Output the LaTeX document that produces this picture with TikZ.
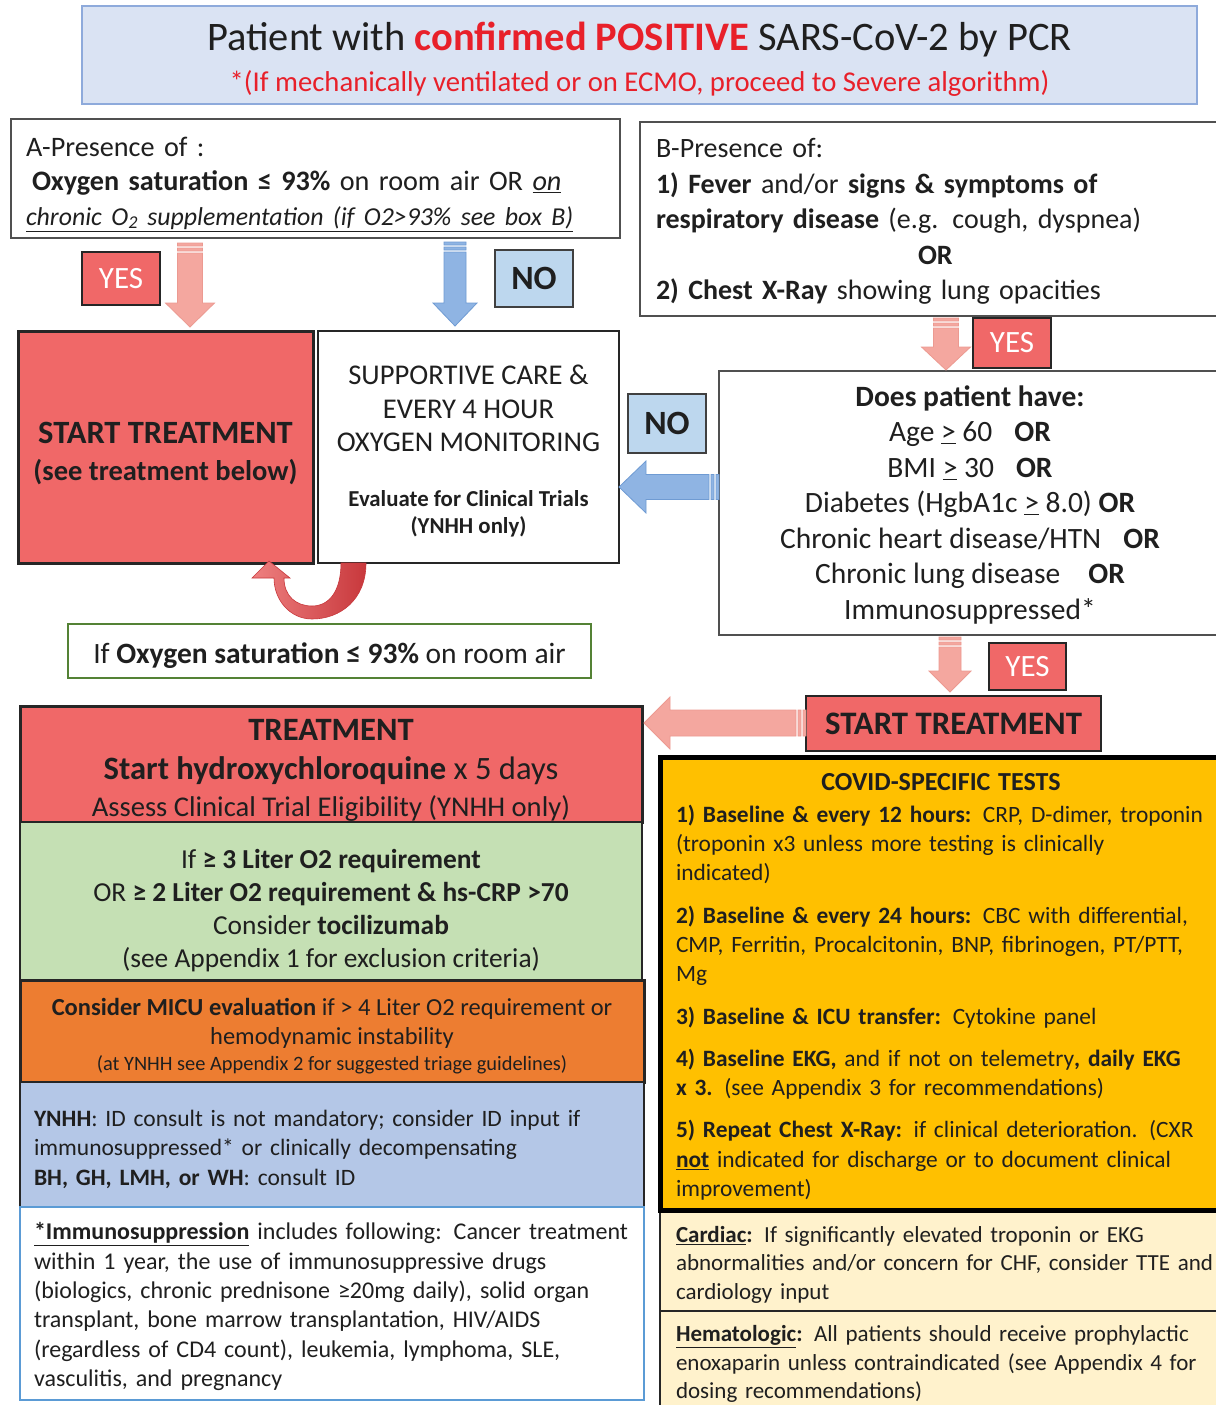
\documentclass[tikz,border=0pt]{standalone}
\usepackage{fontspec}
\setmainfont{Carlito}
\usetikzlibrary{arrows.meta,calc}
\definecolor{hdrfill}{HTML}{DAE3F3}
\definecolor{hdrline}{HTML}{8EAADB}
\definecolor{titlered}{HTML}{E8202A}
\definecolor{coral}{HTML}{F06868}
\definecolor{darkline}{HTML}{262626}
\definecolor{boxgray}{HTML}{505050}
\definecolor{nofill}{HTML}{BDD7EE}
\definecolor{noline}{HTML}{404040}
\definecolor{pinkA}{HTML}{F4A79F}
\definecolor{pinkE}{HTML}{EC9A91}
\definecolor{blueA}{HTML}{8FB4E3}
\definecolor{blueE}{HTML}{6F9BD3}
\definecolor{greenfill}{HTML}{C5E0B4}
\definecolor{greenline}{HTML}{548235}
\definecolor{orangefill}{HTML}{ED7D31}
\definecolor{bluefill}{HTML}{B4C7E7}
\definecolor{immline}{HTML}{5B9BD5}
\definecolor{amber}{HTML}{FFC000}
\definecolor{cream}{HTML}{FFF2CC}
\definecolor{textdark}{HTML}{1F1F1F}
\definecolor{curveL}{HTML}{EE8080}
\definecolor{curveR}{HTML}{C8383C}
% strut that lowers a centred text block by half its extra height
\newcommand{\dn}[1]{\rule{0pt}{\dimexpr\fontcharht\font`\(+#1\relax}}
\newcommand{\downblock}[6]{%
  \path[#1] let \p1=(#2), \p2=(#3) in
    (\x1-#4,\y1) rectangle (\x1+#4,\y1-3pt)
    (\x1-#4,\y1-5pt) rectangle (\x1+#4,\y1-8pt)
    (\x1-#4,\y1-10pt) -- (\x1+#4,\y1-10pt) -- (\x1+#4,\y2+#6) -- (\x1+#5,\y2+#6)
    -- (\x1,\y2) -- (\x1-#5,\y2+#6) -- (\x1-#4,\y2+#6) -- cycle;}
\newcommand{\leftblock}[6]{%
  \path[#1] let \p1=(#2), \p2=(#3) in
    (\x1,\y1-#4) rectangle (\x1-3pt,\y1+#4)
    (\x1-5pt,\y1-#4) rectangle (\x1-8pt,\y1+#4)
    (\x1-10pt,\y1-#4) -- (\x1-10pt,\y1+#4) -- (\x2+#6,\y1+#4) -- (\x2+#6,\y1+#5)
    -- (\x2,\y1) -- (\x2+#6,\y1-#5) -- (\x2+#6,\y1-#4) -- cycle;}
\begin{document}
\begin{tikzpicture}[x=1pt,y=-1pt,
  every node/.append style={text=textdark},
  bx/.style={anchor=north west, inner sep=0pt, outer sep=0pt, align=center},
  bxl/.style={anchor=north west, inner ysep=0pt, outer sep=0pt, align=left},
  yesbox/.style={bx, draw=darkline, line width=2pt, fill=coral, text=white, font=\fontsize{31}{31}\selectfont},
  nobox/.style={bx, draw=noline, line width=1.5pt, fill=nofill, font=\bfseries\fontsize{34}{34}\selectfont},
  pinkarrow/.style={fill=pinkA, draw=pinkE, line width=0.8pt},
  bluearrow/.style={fill=blueA, draw=blueE, line width=0.8pt}]
\useasboundingbox (0,0) rectangle (1215,1405);
\fill[white] (0,0) rectangle (1215,1405);

% header
\node[bx, draw=hdrline, line width=1.5pt, fill=hdrfill, minimum width=1115pt, minimum height=98pt,
  font=\fontsize{40.5}{41}\selectfont] (hdr) at (82,6)
  {\dn{8pt}Patient with {\color{titlered}\bfseries confirmed POSITIVE} SARS-CoV-2 by PCR\\
   {\fontsize{28.7}{30}\selectfont\color{titlered}*(If mechanically ventilated or on ECMO, proceed to Severe algorithm)}};

% box A
\node[bxl, draw=boxgray, line width=1.2pt, fill=white, text width=579pt, inner xsep=15pt, minimum height=119pt,
  font=\fontsize{28.2}{34.5}\selectfont] (A) at (11,119)
  {\dn{10pt}A-Presence of :\\\hspace*{6pt}\textbf{Oxygen saturation ≤ 93\%} on room air OR \underline{\textit{on}}\\
   {\fontsize{25.8}{34.5}\selectfont\underline{\textit{chronic O\textsubscript{2} supplementation (if O2>93\% see box B)}}}};

% box B
\node[bxl, draw=boxgray, line width=1.2pt, fill=white, text width=560pt, inner xsep=16pt, minimum height=194pt,
  font=\fontsize{28}{35.5}\selectfont] (B) at (640,122)
  {\dn{4pt}B-Presence of:\\\textbf{1) Fever} and/or \textbf{signs \& symptoms of}\\
   \textbf{respiratory disease} (e.g. cough, dyspnea)\\\hspace*{262pt}\textbf{OR}\\
   \textbf{2) Chest X-Ray} showing lung opacities};

\node[yesbox, minimum width=78pt, minimum height=53pt] (yes1) at (82,252) {YES};
\node[nobox, minimum width=78pt, minimum height=57pt] (no1) at (495,250) {NO};

% start treatment (left)
\node[bx, draw=darkline, line width=3pt, fill=coral, minimum width=295pt, minimum height=232pt,
  font=\bfseries\fontsize{32.5}{37}\selectfont] (start1) at (18,331)
  {\dn{10pt}START TREATMENT\\{\fontsize{28.5}{37}\selectfont (see treatment below)}};

% supportive care
\node[bx, draw=darkline, line width=2.5pt, fill=white, minimum width=301pt, minimum height=232pt,
  font=\fontsize{28.6}{33.5}\selectfont] (sup) at (318,331)
  {\dn{7pt}SUPPORTIVE CARE \&\\EVERY 4 HOUR\\OXYGEN MONITORING\\[21pt]
   {\bfseries\fontsize{22.8}{27}\selectfont Evaluate for Clinical Trials}\\[-6.5pt]
   {\bfseries\fontsize{22.8}{27}\selectfont (YNHH only)}};

% does patient have
\node[bx, draw=boxgray, line width=1.2pt, fill=white, minimum width=502pt, minimum height=264pt,
  font=\fontsize{29.5}{35.5}\selectfont] (does) at (719,371)
  {\dn{3pt}\textbf{Does patient have:}\\
   Age \underline{>} 60\hspace{22pt}\textbf{OR}\\
   BMI \underline{>} 30\hspace{22pt}\textbf{OR}\\
   Diabetes (HgbA1c \underline{>} 8.0) \textbf{OR}\\
   Chronic heart disease/HTN\hspace{22pt}\textbf{OR}\\
   Chronic lung disease\hspace{28pt}\textbf{OR}\\
   Immunosuppressed*};

\node[nobox, minimum width=78pt, minimum height=59pt] (no2) at (628,394) {NO};
\node[yesbox, minimum width=78pt, minimum height=50pt] (yes2) at (973,318) {YES};
\node[yesbox, minimum width=77pt, minimum height=47pt] (yes3) at (989,643) {YES};

% condition box
\node[bx, draw=greenline, line width=2pt, fill=white, minimum width=523pt, minimum height=54pt,
  font=\fontsize{29.5}{29.5}\selectfont] (cond) at (68,624)
  {\dn{8pt}If \textbf{Oxygen saturation ≤ 93\%} on room air};

% start treatment (right)
\node[bx, draw=darkline, line width=2.5pt, fill=coral, minimum width=295pt, minimum height=55pt,
  font=\bfseries\fontsize{32.8}{32.8}\selectfont] (start2) at (806,696) {START TREATMENT};

% treatment column
\node[bx, draw=darkline, line width=3pt, fill=coral, minimum width=622pt, minimum height=116pt,
  font=\fontsize{28.6}{37}\selectfont] (treat) at (20,706)
  {{\bfseries\fontsize{32.6}{37}\selectfont\dn{10pt}TREATMENT}\\[2pt]
   {\fontsize{32.6}{37}\selectfont\textbf{Start hydroxychloroquine} x 5 days}\\
   Assess Clinical Trial Eligibility (YNHH only)};
\node[bx, draw=darkline, line width=2.5pt, fill=greenfill, minimum width=622pt, minimum height=158pt,
  font=\fontsize{27.4}{33}\selectfont] (toci) at (20,822)
  {\dn{18pt}If \textbf{≥ 3 Liter O2 requirement}\\
   OR \textbf{≥ 2 Liter O2 requirement \& hs-CRP >70}\\
   Consider \textbf{tocilizumab}\\
   (see Appendix 1 for exclusion criteria)};
\node[bx, draw=darkline, line width=3pt, fill=orangefill, minimum width=624pt, minimum height=102pt,
  font=\fontsize{24.5}{29}\selectfont] (micu) at (20,980)
  {\dn{10pt}\textbf{Consider MICU evaluation} if > 4 Liter O2 requirement or\\
   hemodynamic instability\\[-3pt]
   {\fontsize{20.4}{24}\selectfont (at YNHH see Appendix 2 for suggested triage guidelines)}};
\node[bxl, draw=darkline, line width=2.5pt, fill=bluefill, text width=596pt, inner xsep=14pt, minimum height=125pt,
  font=\fontsize{23.5}{29.5}\selectfont] (idc) at (20,1082)
  {\dn{8pt}\textbf{YNHH}: ID consult is not mandatory; consider ID input if\\
   immunosuppressed* or clinically decompensating\\
   \textbf{BH, GH, LMH, or WH}: consult ID};
\node[bxl, draw=immline, line width=2.5pt, fill=white, text width=596pt, inner xsep=14pt, minimum height=193pt,
  font=\fontsize{24}{29.4}\selectfont] (imm) at (20,1207)
  {\dn{6pt}\underline{\textbf{*Immunosuppression}} includes following: Cancer treatment\\
   within 1 year, the use of immunosuppressive drugs\\
   (biologics, chronic prednisone ≥20mg daily), solid organ\\
   transplant, bone marrow transplantation, HIV/AIDS\\
   (regardless of CD4 count), leukemia, lymphoma, SLE,\\
   vasculitis, and pregnancy};

% right column bottom
\node[bxl, draw=darkline, line width=2pt, fill=cream, text width=540pt, inner xsep=16pt, minimum height=101pt,
  font=\fontsize{23}{28.5}\selectfont] (card) at (660,1210)
  {\dn{8pt}\underline{\textbf{Cardiac}}\textbf{:} If significantly elevated troponin or EKG\\
   abnormalities and/or concern for CHF, consider TTE and\\
   cardiology input};
\node[bxl, draw=darkline, line width=2pt, fill=cream, text width=540pt, inner xsep=16pt, minimum height=100pt,
  font=\fontsize{23}{28.5}\selectfont] (hema) at (660,1311)
  {\dn{6pt}\underline{\textbf{Hematologic}}\textbf{:} All patients should receive prophylactic\\
   enoxaparin unless contraindicated (see Appendix 4 for\\
   dosing recommendations)};
\node[bxl, draw=black, line width=5pt, fill=amber, text width=540pt, inner xsep=16pt, minimum height=453pt,
  font=\fontsize{23.4}{29.3}\selectfont] (covid) at (660,757)
  {\makebox[520pt][c]{\hspace{10pt}\bfseries\fontsize{26}{29}\selectfont\dn{5pt}COVID-SPECIFIC TESTS}\\[2pt]
   \textbf{1) Baseline \& every 12 hours:} CRP, D-dimer, troponin\\
   (troponin x3 unless more testing is clinically\\
   indicated)\\[13pt]
   \textbf{2) Baseline \& every 24 hours:} CBC with differential,\\
   CMP, Ferritin, Procalcitonin, BNP, fibrinogen, PT/PTT,\\
   Mg\\[13pt]
   \textbf{3) Baseline \& ICU transfer:} Cytokine panel\\[13pt]
   \textbf{4) Baseline EKG,} and if not on telemetry\textbf{, daily EKG}\\
   \textbf{x 3.} (see Appendix 3 for recommendations)\\[13pt]
   \textbf{5) Repeat Chest X-Ray:} if clinical deterioration. (CXR\\
   \underline{\textbf{not}} indicated for discharge or to document clinical\\
   improvement)};

% block arrows
\downblock{pinkarrow}{$(A.south west)+(179,5)$}{$(start1.north west)+(172,-4)$}{12.5pt}{24.5pt}{24pt}
\downblock{bluearrow}{$(A.south west)+(444,4)$}{$(sup.north west)+(137,-5)$}{11pt}{22pt}{23pt}
\downblock{pinkarrow}{$(B.south west)+(306,2)$}{$(does.north west)+(227,-1)$}{12.5pt}{24.5pt}{23pt}
\downblock{pinkarrow}{$(does.south west)+(231,2)$}{$(start2.north west)+(144,-4)$}{11pt}{21pt}{21pt}
\leftblock{bluearrow}{$(does.north west)+(0,116)$}{$(sup.north east)+(0,156)$}{12.5pt}{26pt}{27pt}
\leftblock{pinkarrow}{$(start2.north west)+(0,27)$}{$(treat.north east)+(2,17)$}{13pt}{26pt}{26pt}

% curved return arrow
\begin{scope}[shift={(sup.south west)}]
\path[left color=curveL, right color=curveR, draw=curveR, line width=0.6pt]
  (48,0) .. controls (48,37) and (22,56) .. (-6,56)
  .. controls (-28,56) and (-44,37) .. (-44,15) -- (-66,15) -- (-49,-2) -- (-28,15) -- (-34,15)
  .. controls (-34,33) and (-22,43) .. (-6,43)
  .. controls (12,43) and (23,27) .. (23,0) -- cycle;
\end{scope}
\end{tikzpicture}
\end{document}
